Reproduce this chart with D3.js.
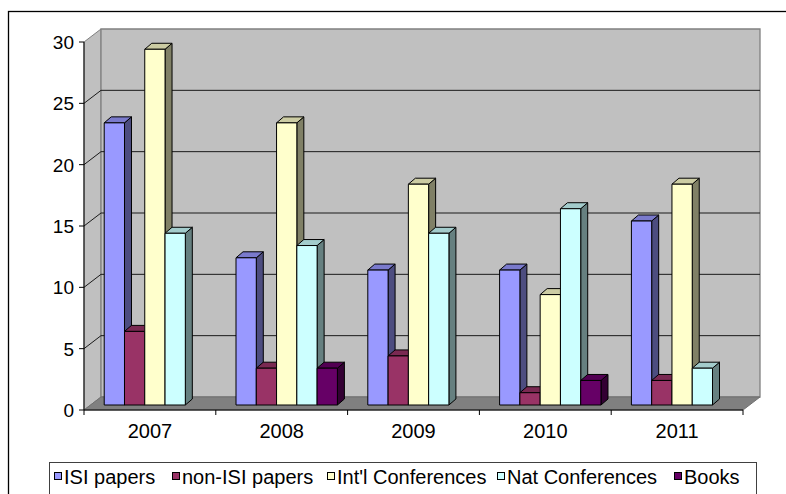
<!DOCTYPE html>
<html>
<head>
<meta charset="utf-8">
<script src="https://cdn.jsdelivr.net/npm/d3@7"></script>
<style>
  body { margin: 0; background: #fff; }
  text { font-family: "Liberation Sans", Arial, sans-serif; fill: #000; }
</style>
</head>
<body>
<script>
var years = ["2007", "2008", "2009", "2010", "2011"]
var seriesNames = ["ISI papers", "non-ISI papers", "Int'l Conferences", "Nat Conferences", "Books"]
var isiPapers = [23, 12, 11, 11, 15]
var nonIsiPapers = [6, 3, 4, 1, 2]
var intlConferences = [29, 23, 18, 9, 18]
var natConferences = [14, 13, 14, 16, 3]
var books = [0, 3, 0, 2, 0]
var yTicks = [0, 5, 10, 15, 20, 25, 30]

var colors = ["#9999FF", "#993366", "#FFFFCC", "#CCFFFF", "#660066"]
var allSeries = [isiPapers, nonIsiPapers, intlConferences, natConferences, books]

var width = 786, height = 494
var wallDx = 17, wallDy = -13      // depth of the floor / walls
var barDx = 5, barDy = -5          // bars sit a bit back from the front edge
var depthX = 7, depthY = -6        // depth of a single column

var svg = d3.select("body").append("svg")
    .attr("width", width)
    .attr("height", height)

// outer chart border
svg.append("rect")
    .attr("x", 8.5).attr("y", 11.5)
    .attr("width", 800).attr("height", 500)
    .attr("fill", "none").attr("stroke", "#000").attr("stroke-width", 1.3)

var xScale = d3.scaleBand()
    .domain(years)
    .range([84, 743])

var xInner = d3.scaleBand()
    .domain(seriesNames)
    .range([0, xScale.bandwidth()])
    .paddingInner(0)
    .paddingOuter(0.75)

var yScale = d3.scaleLinear()
    .domain([0, 30])
    .range([410, 42])

var x0 = xScale.range()[0], x1 = xScale.range()[1]
var yBottom = yScale(0), yTop = yScale(30)

function pts(arr) {
    return arr.map(function (p) { return p.join(",") }).join(" ")
}

// left wall
svg.append("polygon")
    .attr("points", pts([[x0, yBottom], [x0, yTop], [x0 + wallDx, yTop + wallDy], [x0 + wallDx, yBottom + wallDy]]))
    .attr("fill", "#C0C0C0").attr("stroke", "#808080")

// back wall
svg.append("polygon")
    .attr("points", pts([[x0 + wallDx, yTop + wallDy], [x1 + wallDx, yTop + wallDy], [x1 + wallDx, yBottom + wallDy], [x0 + wallDx, yBottom + wallDy]]))
    .attr("fill", "#C0C0C0").attr("stroke", "#808080").attr("stroke-width", 1.3)

// floor
svg.append("polygon")
    .attr("points", pts([[x0, yBottom], [x1, yBottom], [x1 + wallDx, yBottom + wallDy], [x0 + wallDx, yBottom + wallDy]]))
    .attr("fill", "#808080").attr("stroke", "#707070")

// gridlines (left wall diagonal + back wall)
yTicks.slice(1, yTicks.length - 1).forEach(function (v) {
    var yy = yScale(v)
    svg.append("polyline")
        .attr("points", pts([[x0, yy], [x0 + wallDx, yy + wallDy], [x1 + wallDx, yy + wallDy]]))
        .attr("fill", "none")
        .attr("stroke", "#1a1a1a")
        .attr("stroke-width", 1)
})

// columns
function shade(c, k) {
    var col = d3.rgb(c)
    return d3.rgb(col.r * k, col.g * k, col.b * k).toString()
}

years.forEach(function (year, i) {
    seriesNames.forEach(function (name, s) {
        var v = allSeries[s][i]
        if (v <= 0) return
        var left = xScale(year) + xInner(name) + barDx
        var right = left + xInner.bandwidth()
        var top = yScale(v) + barDy
        var bottom = yScale(0) + barDy
        var g = svg.append("g")
            .attr("stroke", "#000")
            .attr("stroke-width", 1)
            .attr("stroke-linejoin", "round")
        // side
        g.append("polygon")
            .attr("points", pts([[right, bottom], [right, top], [right + depthX, top + depthY], [right + depthX, bottom + depthY]]))
            .attr("fill", shade(colors[s], 0.5))
        // top
        g.append("polygon")
            .attr("points", pts([[left, top], [right, top], [right + depthX, top + depthY], [left + depthX, top + depthY]]))
            .attr("fill", shade(colors[s], 0.8))
        // front
        g.append("rect")
            .attr("x", left).attr("y", top)
            .attr("width", right - left).attr("height", bottom - top)
            .attr("fill", colors[s])
    })
})

// y axis
svg.append("line")
    .attr("x1", x0).attr("x2", x0)
    .attr("y1", yTop).attr("y2", yBottom)
    .attr("stroke", "#000")

yTicks.forEach(function (v) {
    svg.append("line")
        .attr("x1", x0 - 5).attr("x2", x0)
        .attr("y1", yScale(v)).attr("y2", yScale(v))
        .attr("stroke", "#000")
    svg.append("text")
        .attr("x", 74)
        .attr("y", yScale(v))
        .attr("dy", "0.36em")
        .attr("text-anchor", "end")
        .style("font-size", "19px")
        .text(v)
})

// x axis
svg.append("line")
    .attr("x1", x0).attr("x2", x1)
    .attr("y1", yBottom).attr("y2", yBottom)
    .attr("stroke", "#000")

years.concat(["end"]).forEach(function (year, i) {
    var xx = i < years.length ? xScale(year) : x1
    svg.append("line")
        .attr("x1", xx).attr("x2", xx)
        .attr("y1", yBottom).attr("y2", yBottom + 5)
        .attr("stroke", "#000")
})

years.forEach(function (year) {
    svg.append("text")
        .attr("x", xScale(year) + xScale.bandwidth() / 2)
        .attr("y", 438)
        .attr("text-anchor", "middle")
        .style("font-size", "20px")
        .text(year)
})

// legend
svg.append("rect")
    .attr("x", 49.5).attr("y", 462.5)
    .attr("width", 707).attr("height", 50)
    .attr("fill", "#fff").attr("stroke", "#404040")

var legendX = [54, 172, 327, 497, 674]
seriesNames.forEach(function (name, s) {
    svg.append("rect")
        .attr("x", legendX[s] + 0.5).attr("y", 472.5)
        .attr("width", 7).attr("height", 7)
        .attr("fill", colors[s])
        .attr("stroke", "#000")
    svg.append("text")
        .attr("x", legendX[s] + 10)
        .attr("y", 484)
        .style("font-size", "20px")
        .text(name)
})
</script>
</body>
</html>
